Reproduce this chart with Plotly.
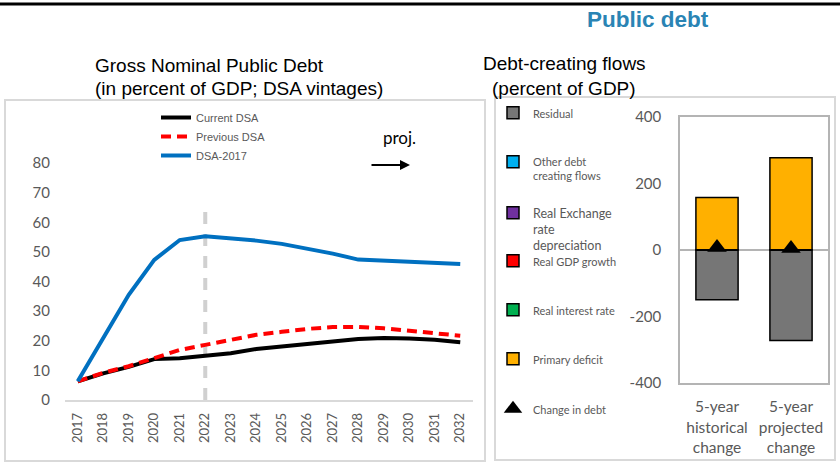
import plotly.graph_objects as go

W, H = 840, 462

# --- data: left chart (gross nominal public debt, % of GDP) ---
years = [str(y) for y in range(2017, 2033)]
current_dsa = [6.3, 9.0, 11.2, 13.8, 14.1, 14.8, 15.8, 17.2, 18.1, 18.9, 19.8, 20.6, 20.9, 20.8, 20.3, 19.5]
previous_dsa = [6.3, 9.2, 11.4, 14.0, 16.9, 18.6, 20.2, 22.0, 23.0, 24.0, 24.6, 24.7, 24.2, 23.4, 22.6, 21.7]
dsa_2017 = [6.3, 21.0, 35.5, 47.3, 54.0, 55.3, 54.6, 53.8, 52.7, 51.2, 49.4, 47.4, 47.1, 46.8, 46.4, 45.9]
proj_start = "2022"

# --- data: right chart (debt-creating flows, % of GDP) ---
periods = ["5-year<br>historical<br>change", "5-year<br>projected<br>change"]
residual = [-150, -272]
other_flows = [0, 0]
real_exch = [0, 0]
real_gdp = [0, 0]
real_int = [0, 0]
primary_def = [157, 277]
change_debt = [7, 4]
flow_ticks = [400, 200, 0, -200, -400]
flow_tick_text = ["400", "200", "0", "-200", "-400"]


def px(x):
    return x / W


def py(y):
    return 1 - y / H


GREY_TXT = "#595959"
fig = go.Figure()

# left chart lines
fig.add_trace(go.Scatter(x=years, y=current_dsa, mode="lines", name="Current DSA",
                         line=dict(color="black", width=4), legend="legend"))
fig.add_trace(go.Scatter(x=years, y=previous_dsa, mode="lines", name="Previous DSA",
                         line=dict(color="#ff0000", width=4, dash="10px,6px"), legend="legend"))
fig.add_trace(go.Scatter(x=years, y=dsa_2017, mode="lines", name="DSA-2017",
                         line=dict(color="#0070c0", width=4), legend="legend"))

# right chart bars, one legend box per item so the entries can be spaced like the original
flows = [
    ("Residual", residual, "#767676", 113, 11),
    ("Other debt<br>creating flows", other_flows, "#00b0f0", 162, 11),
    ("Real Exchange<br>rate<br>depreciation", real_exch, "#7030a0", 212, 12.5),
    ("Real GDP growth", real_gdp, "#ff0000", 261, 11),
    ("Real interest rate", real_int, "#00b050", 310, 11),
    ("Primary deficit", primary_def, "#ffb000", 359, 11),
]
legend_rows = {}
for i, (name, vals, col, row, fs) in enumerate(flows):
    lg = "legend%d" % (i + 2)
    legend_rows[lg] = (row, fs)
    fig.add_trace(go.Bar(x=periods, y=vals, name=name, marker=dict(color=col, line=dict(color="black", width=1.5)),
                         width=0.57, xaxis="x2", yaxis="y2", legend=lg))
fig.add_trace(go.Scatter(x=periods, y=change_debt, mode="markers", name="Change in debt",
                         marker=dict(symbol="triangle-up", size=17, color="black"),
                         xaxis="x2", yaxis="y2", legend="legend8"))
legend_rows["legend8"] = (409, 11)

layout = dict(
    width=W, height=H, margin=dict(l=0, r=0, t=0, b=0, autoexpand=False),
    paper_bgcolor="white", plot_bgcolor="white",
    barmode="relative", showlegend=True,
    xaxis=dict(domain=[px(65), px(473)], type="category", range=[-0.5, len(years) - 0.5],
               showgrid=False, showline=True, automargin=False,
               linecolor="#d9d9d9", linewidth=1.5, tickangle=-90, ticks="",
               tickfont=dict(family="Lato", size=13, color=GREY_TXT), ticklabelstandoff=6),
    yaxis=dict(domain=[py(400), py(163)], range=[0, 80], dtick=10, showgrid=False, zeroline=False,
               showline=False, automargin=False,
               tickfont=dict(family="Lato", size=15, color=GREY_TXT), ticklabelstandoff=14),
    xaxis2=dict(domain=[px(680), px(828)], anchor="y2", type="category", showgrid=False,
                showline=True, mirror=True, linecolor="#b4b4b4", linewidth=1.5, ticks="", automargin=False,
                tickfont=dict(family="Lato", size=15.5, color=GREY_TXT), ticklabelstandoff=9),
    yaxis2=dict(domain=[py(383), py(116.7)], anchor="x2", range=[-400, 400],
                tickvals=flow_ticks, ticktext=flow_tick_text, showgrid=False,
                showline=True, mirror=True, linecolor="#b4b4b4", linewidth=1.5, automargin=False,
                zeroline=True, zerolinecolor="#b4b4b4", zerolinewidth=1.5,
                tickfont=dict(family="Lato", size=15, color=GREY_TXT), ticklabelstandoff=14),
    legend=dict(x=px(156), y=py(103), xanchor="left", yanchor="top", bgcolor="rgba(0,0,0,0)",
                font=dict(family="Liberation Sans", size=11, color=GREY_TXT), tracegroupgap=0),
)
for lg, (row, fs) in legend_rows.items():
    layout[lg] = dict(x=px(493), y=py(row - 14), xanchor="left", yanchor="top", valign="top",
                      bgcolor="rgba(0,0,0,0)", font=dict(family="Lato", size=fs, color=GREY_TXT))
fig.update_layout(**layout)

# frames, separators and the projection marker
fig.add_shape(type="line", xref="paper", yref="paper", x0=0, x1=1, y0=py(4), y1=py(4),
              line=dict(color="black", width=3))
fig.add_shape(type="rect", xref="paper", yref="paper", x0=px(5), x1=px(485), y0=py(461), y1=py(100),
              line=dict(color="#d9d9d9", width=2))
fig.add_shape(type="rect", xref="paper", yref="paper", x0=px(495), x1=px(835), y0=py(460), y1=py(97),
              line=dict(color="#d9d9d9", width=2))
i_proj = years.index(proj_start)
fig.add_shape(type="line", xref="x", yref="y", x0=i_proj, x1=i_proj, y0=0, y1=66.5,
              line=dict(color="#d0d0d0", width=4, dash="12px,10px"), layer="below")

# text
ann = [
    dict(text="<b>Public debt</b>", x=px(648), y=py(20), xanchor="center",
         font=dict(family="Liberation Sans", size=22.5, color="#2a84b4")),
    dict(text="Gross Nominal Public Debt", x=px(93), y=py(66), xanchor="left",
         font=dict(family="Liberation Sans", size=19, color="black")),
    dict(text="(in percent of GDP; DSA vintages)", x=px(93), y=py(89), xanchor="left",
         font=dict(family="Liberation Sans", size=19, color="black")),
    dict(text="Debt-creating flows", x=px(481), y=py(64), xanchor="left",
         font=dict(family="Liberation Sans", size=19, color="black")),
    dict(text="(percent of GDP)", x=px(490), y=py(88), xanchor="left",
         font=dict(family="Liberation Sans", size=19, color="black")),
    dict(text="proj.", x=px(399), y=py(137), xanchor="center", font=dict(family="Lato", size=17, color="black")),
]
for a in ann:
    a.update(xref="paper", yref="paper", yanchor="middle", showarrow=False)
    fig.add_annotation(**a)
fig.add_annotation(x=px(410), y=py(165), xref="paper", yref="paper", ax=-40, ay=0, text="",
                   showarrow=True, arrowhead=2, arrowsize=1, arrowwidth=2, arrowcolor="black")

fig.write_html("out.html", config={"displayModeBar": False},
               post_script="document.body.style.margin='0';document.body.style.overflow='hidden';")
